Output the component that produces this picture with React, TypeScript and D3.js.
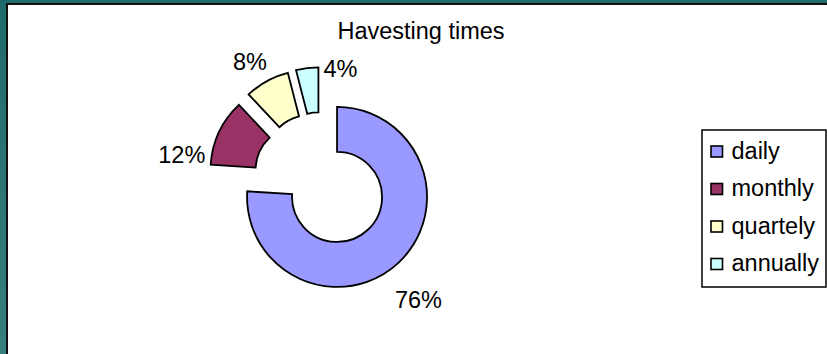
import React from "react";
import * as d3 from "d3";

const categories = ["daily", "monthly", "quartely", "annually"];
const values = [76, 12, 8, 4];
const colors = ["#9999FF", "#993366", "#FFFFCC", "#CCFFFF"];
const title = "Havesting times";

const W = 827;
const H = 354;
const FONT = "Arial, 'Liberation Sans', sans-serif";
const FS = 23.5;

// doughnut geometry
const center = { x: 321.3, y: 180.2 };
const outerR = 90;
const innerR = 45;
const explode = 23;
const labelR = 142;
// per-slice nudges applied to the automatic label position
const labelNudge = [
  [0, 16],
  [-11, 35],
  [-3, 6],
  [37, 29],
];

export default function App() {
  const pie = d3
    .pie<number>()
    .sort(null)
    .value((d) => d);
  const arcs = pie(values);
  const arc = d3.arc<d3.PieArcDatum<number>>().innerRadius(innerR).outerRadius(outerR);
  const total = d3.sum(values);

  const legendX = 702;
  const legendY = 130;
  const legendW = 125;
  const legendH = 157;
  const rowY = d3
    .scalePoint<string>()
    .domain(categories)
    .range([legendY + 21.5, legendY + 134])
    .padding(0);

  return (
    <svg
      width={W}
      height={H}
      style={{ position: "absolute", left: 0, top: 0, display: "block" }}
    >
      <defs>
        <linearGradient id="frame" x1="0" y1="0" x2="0" y2="1">
          <stop offset="0" stopColor="#1F6B6A" />
          <stop offset="1" stopColor="#377F7C" />
        </linearGradient>
      </defs>
      <rect x={0} y={0} width={W} height={H} fill="url(#frame)" />
      <rect x={6} y={3} width={W - 6} height={H - 3} fill="#111" />
      <rect x={8} y={5} width={W - 8} height={H - 5} fill="#fff" />

      <text
        x={421}
        y={38.5}
        textAnchor="middle"
        fontFamily={FONT}
        fontSize={FS}
        fill="#000"
      >
        {title}
      </text>

      <g>
        {arcs.map((a, i) => {
          const mid = (a.startAngle + a.endAngle) / 2;
          const dx = explode * Math.sin(mid);
          const dy = -explode * Math.cos(mid);
          return (
            <path
              key={categories[i]}
              d={arc(a) ?? ""}
              transform={`translate(${center.x + dx},${center.y + dy})`}
              fill={colors[i]}
              stroke="#000"
              strokeWidth={1.8}
              strokeLinejoin="miter"
            />
          );
        })}
        {arcs.map((a, i) => {
          const mid = (a.startAngle + a.endAngle) / 2;
          const x = center.x + labelR * Math.sin(mid) + labelNudge[i][0];
          const y = center.y - labelR * Math.cos(mid) + labelNudge[i][1];
          const pct = Math.round((values[i] / total) * 100);
          return (
            <text
              key={"l" + categories[i]}
              x={x}
              y={y}
              dy="0.36em"
              textAnchor="middle"
              fontFamily={FONT}
              fontSize={FS}
              fill="#000"
            >
              {pct}%
            </text>
          );
        })}
      </g>

      <g>
        <rect
          x={legendX}
          y={legendY}
          width={legendW - 1}
          height={legendH}
          fill="#fff"
          stroke="#000"
          strokeWidth={1.5}
        />
        {categories.map((c, i) => {
          const cy = rowY(c) ?? 0;
          return (
            <g key={"lg" + c}>
              <rect
                x={711}
                y={cy - 5.5}
                width={11.5}
                height={11}
                fill={colors[i]}
                stroke="#000"
                strokeWidth={1.6}
              />
              <text
                x={731.5}
                y={cy + 7}
                fontFamily={FONT}
                fontSize={FS}
                fill="#000"
              >
                {c}
              </text>
            </g>
          );
        })}
      </g>
    </svg>
  );
}
